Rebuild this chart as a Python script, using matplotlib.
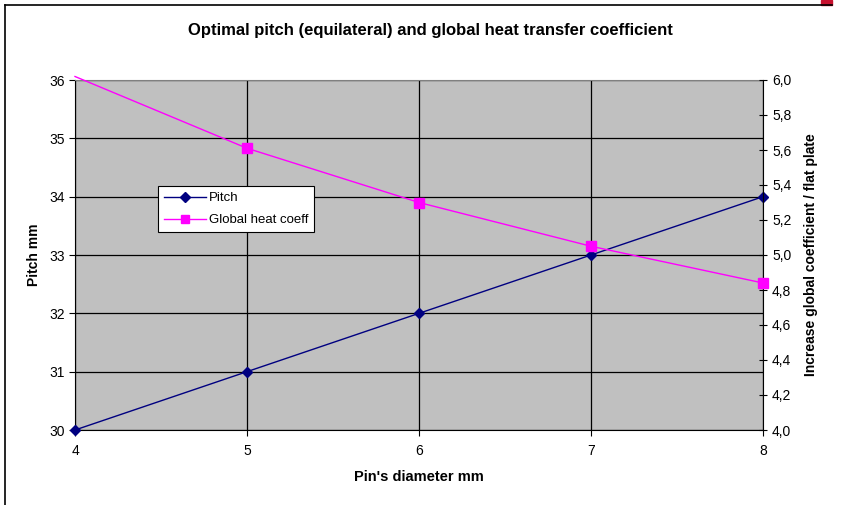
import matplotlib.pyplot as plt
from matplotlib.lines import Line2D
from matplotlib.patches import Rectangle
from matplotlib.ticker import FixedLocator, FuncFormatter

plt.rcParams['font.family'] = ['Liberation Sans', 'DejaVu Sans']

# pin diameter (mm) vs optimal pitch and heat coefficient ratio
diameter = [4, 5, 6, 7, 8]
pitch = [30, 31, 32, 33, 34]
heat_coeff = [6.02, 5.61, 5.30, 5.05, 4.84]

fig = plt.figure(figsize=(8.45, 5.05), dpi=100)

# outer chart frame (left and top edges) and the small red tab
fig.add_artist(Line2D([5 / 845, 5 / 845], [0, 1 - 5 / 505], color='black', lw=1.2,
                      transform=fig.transFigure))
fig.add_artist(Line2D([5 / 845, 832 / 845], [1 - 5 / 505, 1 - 5 / 505], color='black', lw=1.2,
                      transform=fig.transFigure))
fig.add_artist(Rectangle((821 / 845, 1 - 5 / 505), 11 / 845, 5 / 505, color='#C8102E',
                         transform=fig.transFigure))

ax = fig.add_axes([75 / 845, 75 / 505, 688 / 845, 350 / 505])
ax.set_facecolor('#C0C0C0')
ax.set_xlim(4, 8)
ax.set_ylim(30, 36)
ax.set_xticks(diameter)
ax.set_yticks(range(30, 37))
ax.grid(True, color='black', lw=0.9)
ax.set_axisbelow(True)
for s in ['left', 'bottom']:
    ax.spines[s].set_color('black')
ax.spines['top'].set_color('#808080')
ax.spines['right'].set_visible(False)
ax.tick_params(axis='both', labelsize=10, length=4, width=0.8, colors='black')
ax.tick_params(axis='x', pad=6)

ax.plot(diameter, pitch, color='#000080', lw=1, marker='D', markersize=5,
        clip_on=False, zorder=5)

ax2 = ax.twinx()
ax2.set_ylim(4.0, 6.0)
ax2.yaxis.set_major_locator(FixedLocator([4.0 + 0.2 * i for i in range(11)]))
ax2.yaxis.set_major_formatter(FuncFormatter(lambda v, p: f"{v:.1f}".replace('.', ',')))
ax2.tick_params(axis='y', labelsize=10, length=6, width=0.8, direction='inout')
for s in ['left', 'top', 'bottom']:
    ax2.spines[s].set_visible(False)
ax2.spines['right'].set_color('black')

ax2.plot(diameter, heat_coeff, color='#FF00FF', lw=1, marker='s', markersize=7,
         markevery=[1, 2, 3, 4], clip_on=False, zorder=5)

ax.set_xlabel("Pin's diameter mm", fontsize=10.5, fontweight='bold', labelpad=9)
ax.set_ylabel("Pitch mm", fontsize=10, fontweight='bold', labelpad=6)
ax2.set_ylabel("Increase global coefficient / flat plate", fontsize=10,
               fontweight='bold', labelpad=9)

fig.text(430 / 845, 1 - 30 / 505,
         "Optimal pitch (equilateral) and global heat transfer coefficient",
         ha='center', va='center', fontsize=12, fontweight='bold')

handles = [
    Line2D([], [], color='#000080', lw=1, marker='D', markersize=5, label='Pitch'),
    Line2D([], [], color='#FF00FF', lw=1, marker='s', markersize=6, label='Global heat coeff'),
]
leg = ax.legend(handles=handles, loc='upper left', bbox_to_anchor=(83 / 688, 1 - 106 / 350),
                fontsize=9.5, frameon=True, fancybox=False, framealpha=1,
                edgecolor='black', borderpad=0.45, handlelength=3.2, handletextpad=0.2,
                labelspacing=0.75, borderaxespad=0)
leg.get_frame().set_linewidth(0.8)
leg.set_zorder(10)

plt.savefig('out.png', dpi=100)
